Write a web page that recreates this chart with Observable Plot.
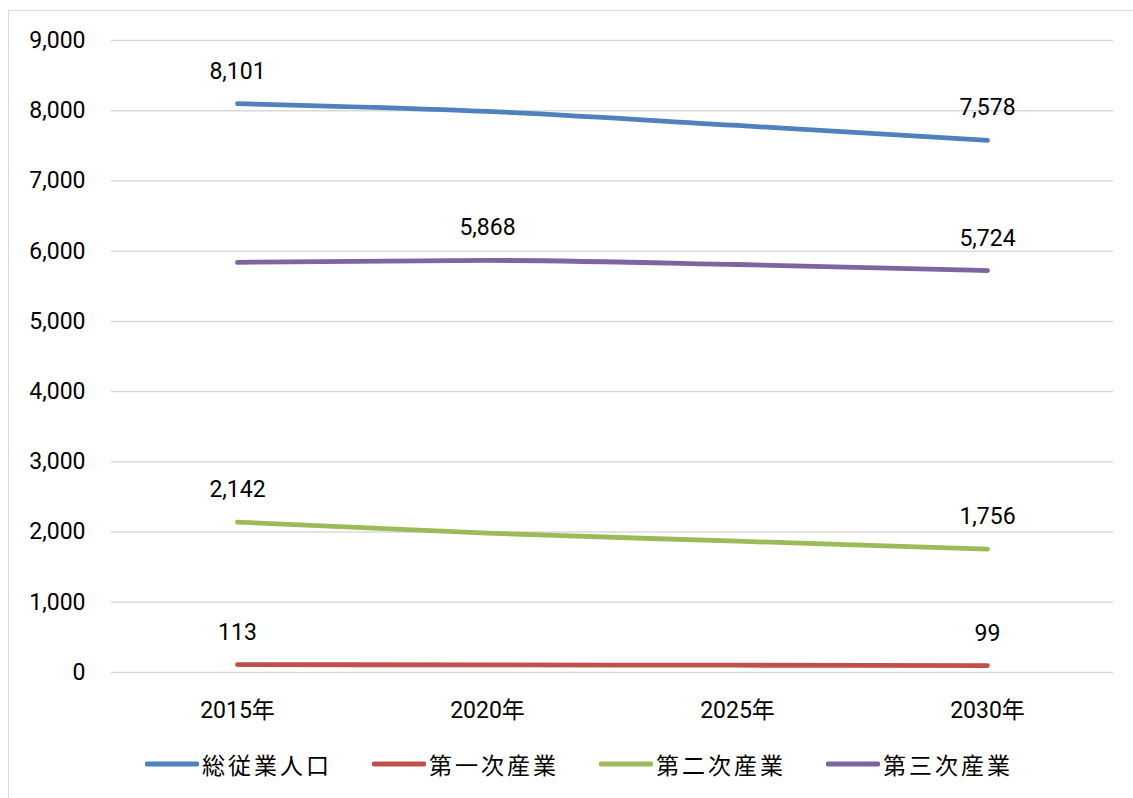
<!DOCTYPE html>
<html>
<head>
<meta charset="utf-8">
<script src="https://cdn.jsdelivr.net/npm/d3@7"></script>
<script src="https://cdn.jsdelivr.net/npm/@observablehq/plot@0.6"></script>
<style>
  html, body { margin: 0; padding: 0; background: #fff; overflow: hidden; }
  #wrap { position: relative; width: 1133px; height: 798px; font-family: Roboto, "Noto Sans CJK JP", sans-serif; }
  #frame { position: absolute; left: 8px; top: 10px; width: 1200px; height: 900px; border: 1.5px solid #d9d9d9; box-sizing: border-box; }
  #chart { position: absolute; left: 0; top: 0; }
  #legend { position: absolute; left: 145px; top: 748px; display: flex; gap: 40px; align-items: center; }
  .item { display: flex; align-items: center; }
  .item svg { margin-right: 3px; }
  .item span { font-family: "Noto Sans CJK JP", sans-serif; font-size: 23px; letter-spacing: 3px; color: #000; line-height: 32px; }
</style>
</head>
<body>
<div id="wrap">
  <div id="frame"></div>
  <div id="chart"></div>
  <div id="legend"></div>
</div>
<script>
const years = ["2015年", "2020年", "2025年", "2030年"];
const seriesNames = ["総従業人口", "第一次産業", "第二次産業", "第三次産業"];
const total = [8101, 7990, 7790, 7578];
const primary = [113, 108, 104, 99];
const secondary = [2142, 1985, 1870, 1756];
const tertiary = [5840, 5868, 5810, 5724];
const yTicks = [0, 1000, 2000, 3000, 4000, 5000, 6000, 7000, 8000, 9000];
const labeledPoints = [
  "総従業人口|2015年", "総従業人口|2030年",
  "第一次産業|2015年", "第一次産業|2030年",
  "第二次産業|2015年", "第二次産業|2030年",
  "第三次産業|2020年", "第三次産業|2030年"
];
const colors = ["#4F81BD", "#C0504D", "#9BBB59", "#8064A2"];

const seriesValues = [total, primary, secondary, tertiary];
const data = [];
seriesNames.forEach((s, i) => {
  years.forEach((y, j) => data.push({series: s, year: y, value: seriesValues[i][j]}));
});
const labels = data.filter(d => labeledPoints.includes(d.series + "|" + d.year));
const fmt = d3.format(",");

const chart = Plot.plot({
  width: 1133,
  height: 740,
  marginLeft: 111,
  marginRight: 20,
  marginTop: 40,
  marginBottom: 68,
  style: {fontFamily: 'Roboto, "Noto Sans CJK JP", sans-serif', fontSize: "23px", color: "#000", background: "transparent"},
  x: {type: "point", domain: years, padding: 0.5, label: null},
  y: {domain: [0, 9000], label: null},
  color: {domain: seriesNames, range: colors},
  marks: [
    Plot.ruleY(yTicks, {stroke: "#d9d9d9", strokeWidth: 1.5}),
    Plot.axisY({ticks: yTicks, tickFormat: fmt, tickSize: 0, tickPadding: 26, label: null, fontSize: 23}),
    Plot.axisX({tickSize: 0, tickPadding: 29, label: null, fontSize: 23}),
    Plot.line(data, {x: "year", y: "value", z: "series", stroke: "series", strokeWidth: 4.8, strokeLinecap: "round", strokeLinejoin: "round", curve: "monotone-x"}),
    Plot.text(labels, {x: "year", y: "value", text: d => fmt(d.value), lineAnchor: "bottom", dy: -25, fontSize: 23, fill: "#000"})
  ]
});
document.getElementById("chart").appendChild(chart);

const legend = document.getElementById("legend");
seriesNames.forEach((s, i) => {
  const item = document.createElement("div");
  item.className = "item";
  item.innerHTML = `<svg width="54" height="10"><line x1="2" y1="5" x2="52" y2="5" stroke="${colors[i]}" stroke-width="4.8" stroke-linecap="round"/></svg><span>${s}</span>`;
  legend.appendChild(item);
});
</script>
</body>
</html>
